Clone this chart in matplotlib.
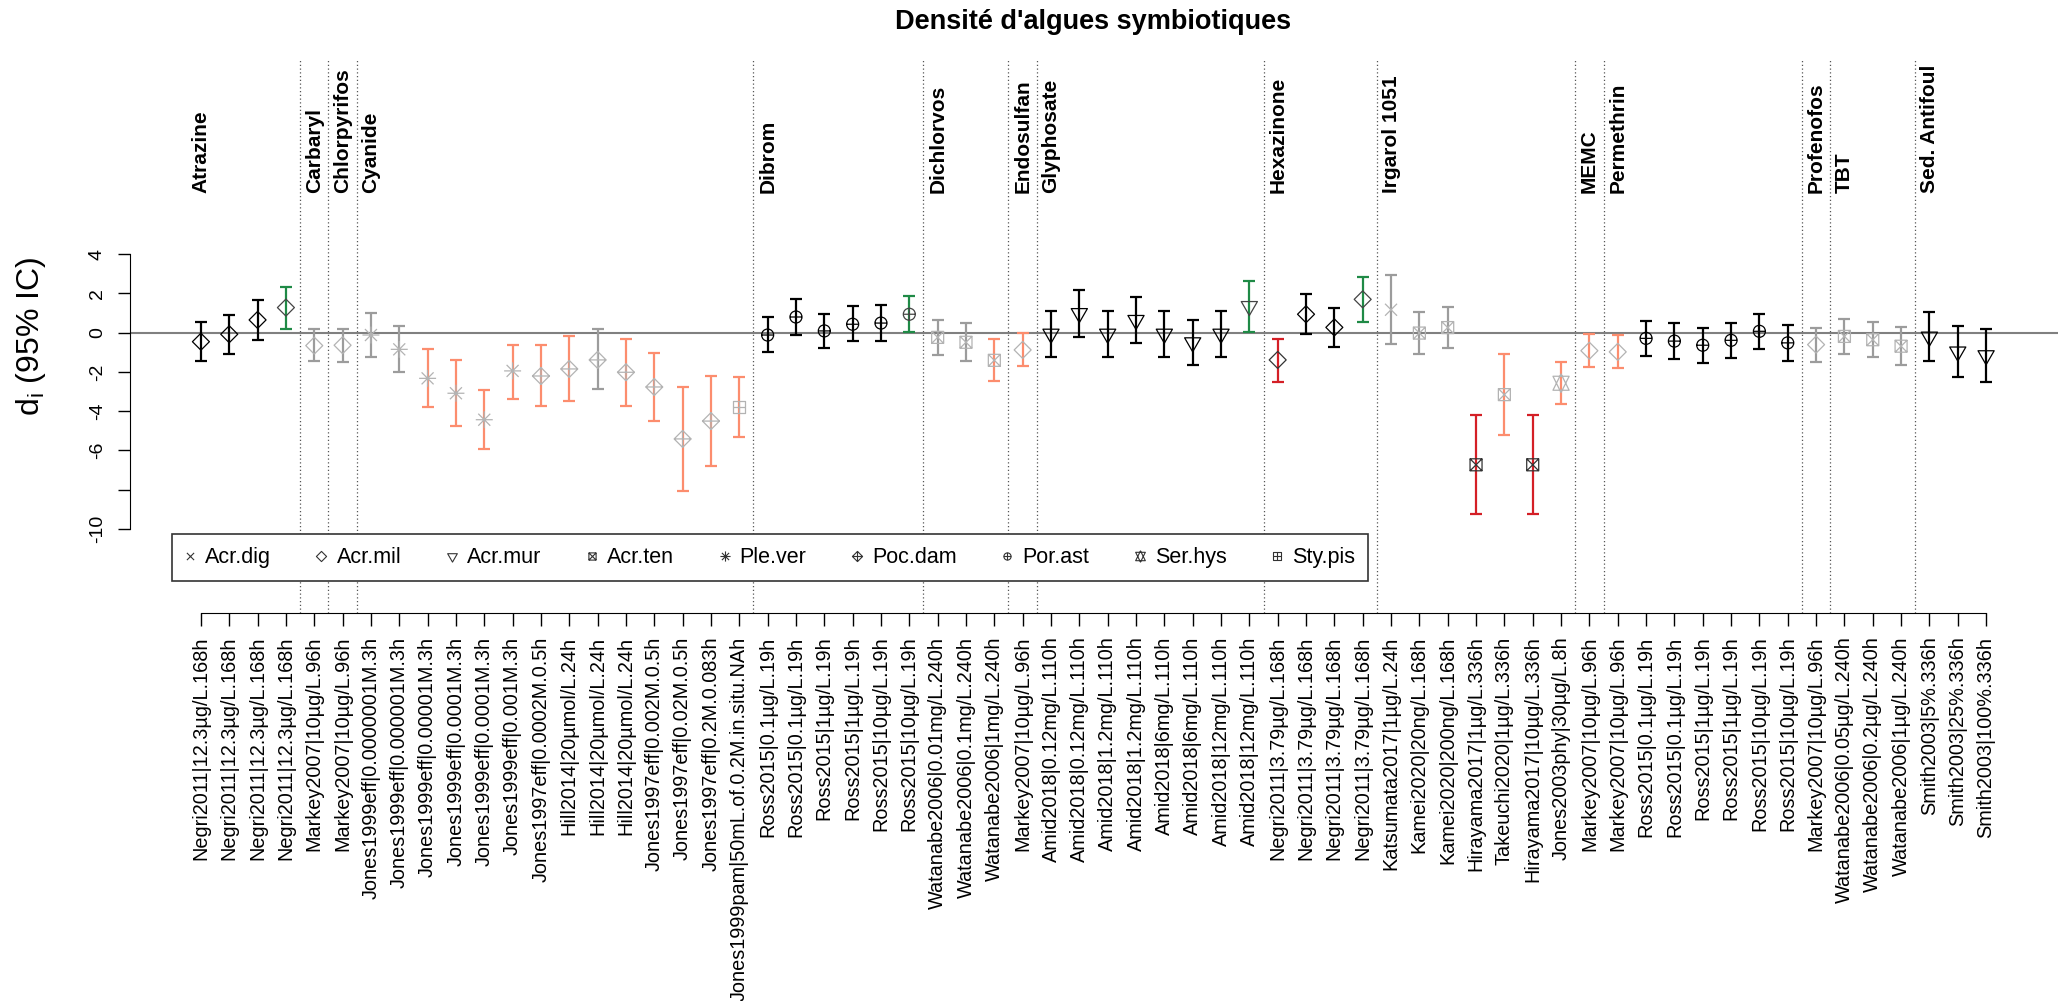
import numpy as np
import matplotlib
matplotlib.use('Agg')
import matplotlib.pyplot as plt
from matplotlib.path import Path
from matplotlib.lines import Line2D

plt.rcParams['font.family'] = ['Liberation Sans', 'DejaVu Sans']
plt.rcParams['mathtext.fontset'] = 'custom'
plt.rcParams['mathtext.rm'] = 'Liberation Sans'
plt.rcParams['mathtext.it'] = 'Liberation Sans:italic'

# etudes (axe x)
etudes = (['Negri2011|12.3µg/L.168h'] * 4
          + ['Markey2007|10µg/L.96h'] * 2
          + ['Jones1999eff|0.0000001M.3h', 'Jones1999eff|0.000001M.3h', 'Jones1999eff|0.00001M.3h',
             'Jones1999eff|0.0001M.3h', 'Jones1999eff|0.0001M.3h', 'Jones1999eff|0.001M.3h',
             'Jones1997eff|0.0002M.0.5h', 'Hill2014|20µmol/L.24h', 'Hill2014|20µmol/L.24h',
             'Hill2014|20µmol/L.24h', 'Jones1997eff|0.002M.0.5h', 'Jones1997eff|0.02M.0.5h',
             'Jones1997eff|0.2M.0.083h', 'Jones1999pam|50mL.of.0.2M.in.situ.NAh']
          + ['Ross2015|0.1µg/L.19h'] * 2 + ['Ross2015|1µg/L.19h'] * 2 + ['Ross2015|10µg/L.19h'] * 2
          + ['Watanabe2006|0.01mg/L.240h', 'Watanabe2006|0.1mg/L.240h', 'Watanabe2006|1mg/L.240h']
          + ['Markey2007|10µg/L.96h']
          + ['Amid2018|0.12mg/L.110h'] * 2 + ['Amid2018|1.2mg/L.110h'] * 2
          + ['Amid2018|6mg/L.110h'] * 2 + ['Amid2018|12mg/L.110h'] * 2
          + ['Negri2011|3.79µg/L.168h'] * 4
          + ['Katsumata2017|1µg/L.24h', 'Kamei2020|20ng/L.168h', 'Kamei2020|200ng/L.168h',
             'Hirayama2017|1µg/L.336h', 'Takeuchi2020|1µg/L.336h', 'Hirayama2017|10µg/L.336h',
             'Jones2003phy|30µg/L.8h']
          + ['Markey2007|10µg/L.96h'] * 2
          + ['Ross2015|0.1µg/L.19h'] * 2 + ['Ross2015|1µg/L.19h'] * 2 + ['Ross2015|10µg/L.19h'] * 2
          + ['Markey2007|10µg/L.96h']
          + ['Watanabe2006|0.05µg/L.240h', 'Watanabe2006|0.2µg/L.240h', 'Watanabe2006|1µg/L.240h']
          + ['Smith2003|5%.336h', 'Smith2003|25%.336h', 'Smith2003|100%.336h'])

# polluants et nombre d'etudes par polluant
polluants = ['Atrazine', 'Carbaryl', 'Chlorpyrifos', 'Cyanide', 'Dibrom', 'Dichlorvos', 'Endosulfan',
             'Glyphosate', 'Hexazinone', 'Irgarol 1051', 'MEMC', 'Permethrin', 'Profenofos', 'TBT',
             'Sed. Antifoul']
n_polluant = [4, 1, 1, 14, 6, 3, 1, 8, 4, 7, 1, 7, 1, 3, 3]

# d_i et IC 95%
di = [-0.46, -0.08, 0.65, 1.28, -0.66, -0.64, -0.12, -0.85, -2.33, -3.09,
      -4.44, -1.95, -2.21, -1.85, -1.39, -2.02, -2.77, -5.42, -4.51, -3.81,
      -0.12, 0.80, 0.09, 0.43, 0.49, 0.94, -0.24, -0.49, -1.41, -0.88,
      -0.06, 0.99, -0.06, 0.64, -0.06, -0.50, -0.06, 1.35, -1.39, 0.94,
      0.27, 1.70, 1.17, -0.02, 0.26, -6.74, -3.16, -6.74, -2.58, -0.92,
      -0.98, -0.29, -0.43, -0.64, -0.39, 0.07, -0.52, -0.61, -0.19, -0.36,
      -0.69, -0.21, -0.97, -1.16]
ic_bas = [-1.46, -1.07, -0.37, 0.17, -1.46, -1.51, -1.26, -2.02, -3.78, -4.78,
          -5.92, -3.38, -3.74, -3.50, -2.89, -3.72, -4.51, -8.09, -6.82, -5.32,
          -0.98, -0.13, -0.80, -0.44, -0.41, 0.04, -1.14, -1.46, -2.48, -1.70,
          -1.22, -0.20, -1.22, -0.54, -1.22, -1.65, -1.22, 0.05, -2.52, -0.08,
          -0.71, 0.56, -0.58, -1.07, -0.80, -9.27, -5.22, -9.27, -3.64, -1.77,
          -1.82, -1.19, -1.33, -1.55, -1.28, -0.82, -1.43, -1.48, -1.07, -1.22,
          -1.66, -1.46, -2.28, -2.50]
ic_haut = [0.56, 0.92, 1.67, 2.35, 0.17, 0.17, 0.99, 0.34, -0.83, -1.41,
           -2.94, -0.61, -0.61, -0.17, 0.17, -0.31, -1.05, -2.77, -2.19, -2.24,
           0.78, 1.70, 0.95, 1.35, 1.40, 1.87, 0.65, 0.51, -0.31, -0.02,
           1.11, 2.18, 1.11, 1.82, 1.11, 0.65, 1.11, 2.64, -0.31, 1.96,
           1.28, 2.83, 2.93, 1.04, 1.31, -4.22, -1.10, -4.22, -1.50, -0.07,
           -0.13, 0.61, 0.48, 0.26, 0.48, 0.95, 0.38, 0.22, 0.70, 0.53,
           0.28, 1.04, 0.34, 0.17]

# espece de corail
especes = ['Acr.dig', 'Acr.mil', 'Acr.mur', 'Acr.ten', 'Ple.ver', 'Poc.dam', 'Por.ast', 'Ser.hys', 'Sty.pis']
espece = (['Acr.mil'] * 6 + ['Ple.ver'] * 6 + ['Poc.dam'] * 7 + ['Sty.pis'] + ['Por.ast'] * 6
          + ['Acr.ten'] * 3 + ['Acr.mil'] + ['Acr.mur'] * 8 + ['Acr.mil'] * 4 + ['Acr.dig']
          + ['Acr.ten'] * 5 + ['Ser.hys'] + ['Acr.mil'] * 2 + ['Por.ast'] * 6 + ['Acr.mil']
          + ['Acr.ten'] * 3 + ['Acr.mur'] * 3)

# classe d'effet (couleur)
classe = (['nul'] * 3 + ['pos'] + ['gris'] * 4 + ['neg'] * 6 + ['gris'] + ['neg'] * 5
          + ['nul'] * 5 + ['pos'] + ['gris'] * 2 + ['neg'] * 2 + ['nul'] * 7 + ['pos']
          + ['fort'] + ['nul'] * 2 + ['pos'] + ['gris'] * 3 + ['fort', 'neg', 'fort']
          + ['neg'] * 3 + ['nul'] * 6 + ['gris'] * 4 + ['nul'] * 3)

couleur_barre = {'nul': 'black', 'pos': '#1f8a46', 'gris': '#9c9c9c', 'neg': '#fc8d6e', 'fort': '#d41f26'}
couleur_point = {'nul': 'black', 'pos': '#444444', 'gris': '#b3b3b3', 'neg': '#b3b3b3', 'fort': '#333333'}


# symboles façon pch de R (4 a 12)
def traits(*segs):
    verts, codes = [], []
    for a, b in segs:
        verts += [a, b]
        codes += [Path.MOVETO, Path.LINETO]
    return Path(verts, codes)


def poly(pts):
    return Path(list(pts) + [pts[0]], [Path.MOVETO] + [Path.LINETO] * (len(pts) - 1) + [Path.CLOSEPOLY])


r0 = 6.0
s2 = np.sqrt(2) * r0
carre = poly([(-r0, -r0), (r0, -r0), (r0, r0), (-r0, r0)])
losange = poly([(0, s2), (s2, 0), (0, -s2), (-s2, 0)])
tr_r, tr_y, tr_x = 1.5551 * r0, 0.7776 * r0, 1.3468 * r0
tr_y2 = 0.5 * (tr_y + tr_r)
symboles = {
    'Acr.dig': traits(((-r0, -r0), (r0, r0)), ((-r0, r0), (r0, -r0))),
    'Acr.mil': losange,
    'Acr.mur': poly([(0, -tr_r), (tr_x, tr_y), (-tr_x, tr_y)]),
    'Acr.ten': Path.make_compound_path(carre, traits(((-r0, -r0), (r0, r0)), ((-r0, r0), (r0, -r0)))),
    'Ple.ver': traits(((-s2, 0), (s2, 0)), ((0, -s2), (0, s2)), ((-r0, -r0), (r0, r0)), ((-r0, r0), (r0, -r0))),
    'Poc.dam': Path.make_compound_path(losange, traits(((-s2, 0), (s2, 0)), ((0, -s2), (0, s2)))),
    'Por.ast': Path.make_compound_path(Path.circle((0, 0), r0), traits(((-r0, 0), (r0, 0)), ((0, -r0), (0, r0)))),
    'Ser.hys': Path.make_compound_path(poly([(0, -tr_r), (tr_x, tr_y2), (-tr_x, tr_y2)]),
                                       poly([(0, tr_r), (tr_x, -tr_y2), (-tr_x, -tr_y2)])),
    'Sty.pis': Path.make_compound_path(carre, traits(((-r0, 0), (r0, 0)), ((0, -r0), (0, r0)))),
}
# taille en points: etendue totale du symbole (px -> pt a 100 dpi)
taille = {k: 2 * np.abs(p.vertices).max() * 0.72 for k, p in symboles.items()}

x = np.arange(len(etudes))
di = np.array(di)
ic_bas = np.array(ic_bas)
ic_haut = np.array(ic_haut)
classe_arr = np.array(classe)
espece_arr = np.array(espece)

W, H = 2064, 1001
fig = plt.figure(figsize=(W / 100, H / 100), dpi=100)
ax = fig.add_axes([129.5 / W, 1 - 613 / H, (2057.5 - 129.5) / W, (613 - 60) / H])
ax.set_xlim(-2.52, 65.52)
ax.set_ylim(-14.30, 13.91)

# separations entre polluants
debuts = np.cumsum([0] + n_polluant[:-1])
for d in debuts[1:]:
    ax.axvline(d - 0.5, color='#555555', lw=0.9, ls=(0, (1, 2)), zorder=0.5)
for nom, d in zip(polluants, debuts):
    ax.text(d, 7.1, nom, rotation=90, ha='center', va='bottom', fontsize=15, fontweight='bold')

ax.axhline(0, color='#808080', lw=1.5, zorder=1)

for c in couleur_barre:
    m = classe_arr == c
    ax.errorbar(x[m], di[m], yerr=[di[m] - ic_bas[m], ic_haut[m] - di[m]], fmt='none',
                ecolor=couleur_barre[c], elinewidth=1.6, capsize=4.5, capthick=1.6, zorder=2)

for sp in especes:
    m = espece_arr == sp
    if not m.any():
        continue
    ax.scatter(x[m], di[m], marker=symboles[sp], s=taille[sp] ** 2, facecolors='none',
               edgecolors=[couleur_point[c] for c in classe_arr[m]], linewidths=0.9, zorder=3)

# axes
for s in ['top', 'right']:
    ax.spines[s].set_visible(False)
ax.spines['left'].set_bounds(-10, 4)
ax.spines['bottom'].set_bounds(0, len(etudes) - 1)
ax.set_yticks([-10, -8, -6, -4, -2, 0, 2, 4])
ax.set_yticklabels(['-10', '', '-6', '-4', '-2', '0', '2', '4'], rotation=90, va='center', fontsize=14)
ax.set_xticks(x)
ax.set_xticklabels(etudes, rotation=90, fontsize=14.3)
ax.tick_params(axis='both', length=9, width=1, pad=8)
ax.set_ylabel(r'$\mathrm{d_i}$ (95% IC)', fontsize=23, va='center')
ax.yaxis.set_label_coords(-0.051, 0.5)
ax.set_title("Densité d'algues symbiotiques", fontsize=19.5, fontweight='bold', pad=22)

handles = [Line2D([], [], ls='none', marker=symboles[sp], markersize=taille[sp] * 0.6,
                  markerfacecolor='none', markeredgecolor='#333333', markeredgewidth=0.8)
           for sp in especes]
leg = ax.legend(handles, especes, ncol=len(especes), loc='lower left',
                bbox_to_anchor=((171.5 - 129.5) / 1928, (613 - 581) / 553),
                borderaxespad=0, fontsize=15.5, handlelength=0.5, handletextpad=0.45,
                columnspacing=2.1, borderpad=0.6, fancybox=False, framealpha=1,
                edgecolor='#333333')
leg.get_frame().set_linewidth(1.2)

fig.savefig('out.png', dpi=100)
